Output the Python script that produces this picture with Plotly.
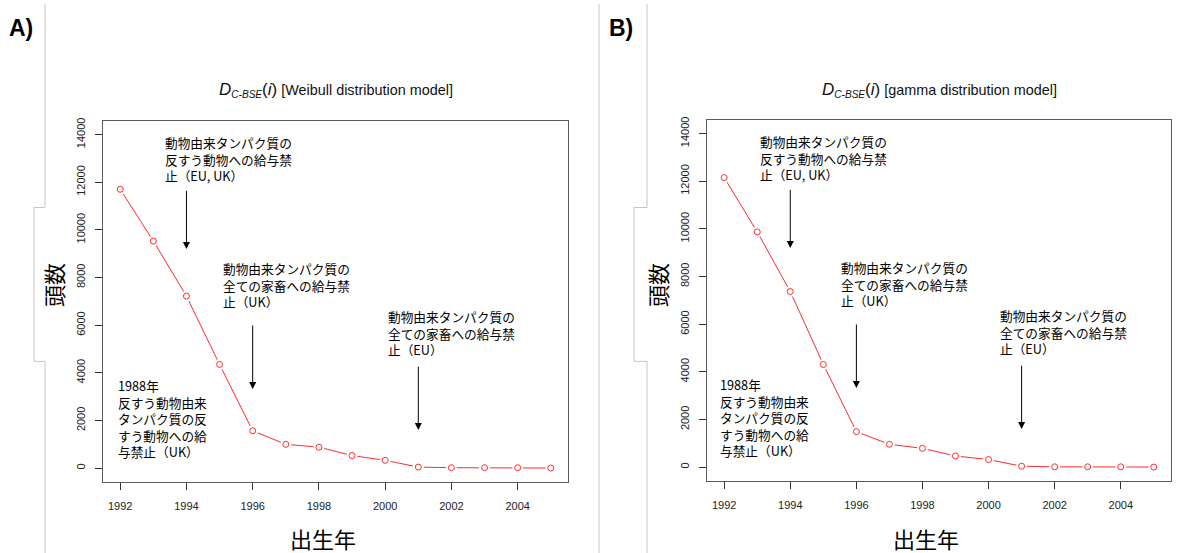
import plotly.graph_objects as go

# Birth cohorts and estimated C-BSE case counts for the two incubation models
years = [1992, 1993, 1994, 1995, 1996, 1997, 1998, 1999, 2000, 2001, 2002, 2003, 2004, 2005]
weibull_cases = [11700, 9530, 7220, 4350, 1570, 1000, 880, 530, 330, 45, 20, 20, 20, 5]
gamma_cases = [12150, 9870, 7370, 4310, 1490, 960, 790, 470, 320, 40, 15, 15, 15, 5]

x_ticks = [1992, 1994, 1996, 1998, 2000, 2002, 2004]
y_ticks = [0, 2000, 4000, 6000, 8000, 10000, 12000, 14000]
y_tick_labels = ["0", "2000", "4000", "6000", "8000", "10000", "12000", "14000"]

panel_letters = ["A)", "B)"]
model_names = ["Weibull distribution model", "gamma distribution model"]
y_title = "頭数"
x_title = "出生年"

# Feed-ban notes: (text, text x, text centre y)
notes_a = [
    ("動物由来タンパク質の<br>反すう動物への給与禁<br>止（EU, UK）", 1993.28, 12970),
    ("動物由来タンパク質の<br>全ての家畜への給与禁<br>止（UK）", 1995.03, 7700),
    ("動物由来タンパク質の<br>全ての家畜への給与禁<br>止（EU）", 2000.03, 5690),
    ("1988年<br>反すう動物由来<br>タンパク質の反<br>すう動物への給<br>与禁止（UK）", 1991.87, 2080),
]
notes_b = [
    ("動物由来タンパク質の<br>反すう動物への給与禁<br>止（EU, UK）", 1993.01, 12970),
    ("動物由来タンパク質の<br>全ての家畜への給与禁<br>止（UK）", 1995.48, 7700),
    ("動物由来タンパク質の<br>全ての家畜への給与禁<br>止（EU）", 2000.30, 5690),
    ("1988年<br>反すう動物由来<br>タンパク質の反<br>すう動物への給<br>与禁止（UK）", 1991.80, 2080),
]
# Arrows: (year, start, end)
arrows = [(1994, 11700, 9200), (1996, 6050, 3320), (2001, 4320, 1600)]

W, H = 1199, 553
JP = "Noto Sans CJK JP"
LAT = "Liberation Sans, Arial, sans-serif"


def px(x):
    return x / W


def py(y):
    return 1 - y / H


fig = go.Figure()

panels = [
    dict(cases=weibull_cases, notes=notes_a, left=103, right=568, top=118, bottom=481,
         xa="x", ya="y", frame_x=45, frame_inner=34, letter_x=7),
    dict(cases=gamma_cases, notes=notes_b, left=707, right=1171, top=117, bottom=480,
         xa="x2", ya="y2", frame_x=647, frame_inner=634, letter_x=607),
]

annotations = []
shapes = []
for i, p in enumerate(panels):
    # line, white halo for the gaps, then open circles (R type="b" look)
    fig.add_trace(go.Scatter(x=years, y=p["cases"], mode="lines",
                             line=dict(color="#ff2a2a", width=1),
                             xaxis=p["xa"], yaxis=p["ya"], showlegend=False, hoverinfo="skip"))
    fig.add_trace(go.Scatter(x=years, y=p["cases"], mode="markers",
                             marker=dict(symbol="circle", size=11, color="white"),
                             xaxis=p["xa"], yaxis=p["ya"], showlegend=False, hoverinfo="skip"))
    fig.add_trace(go.Scatter(x=years, y=p["cases"], mode="markers",
                             marker=dict(symbol="circle-open", size=6, color="#ff2a2a",
                                         line=dict(width=1)),
                             xaxis=p["xa"], yaxis=p["ya"], showlegend=False))

    axis_common = dict(showgrid=False, zeroline=False, showline=True, mirror=True,
                       linecolor="#5a5a5a", linewidth=1, ticks="outside", ticklen=7,
                       tickcolor="#333333", tickwidth=1,
                       tickfont=dict(family=LAT, size=11, color="#222222"))
    xname = "xaxis" if i == 0 else "xaxis2"
    yname = "yaxis" if i == 0 else "yaxis2"
    fig.update_layout(**{
        xname: dict(axis_common, domain=[px(p["left"]), px(p["right"])],
                    range=[1991.48, 2005.52], tickvals=x_ticks,
                    ticktext=[str(v) for v in x_ticks],
                    anchor=p["ya"], ticklabelstandoff=7),
        yname: dict(axis_common, domain=[py(p["bottom"]), py(p["top"])],
                    range=[-560, 14560], tickvals=y_ticks, ticktext=y_tick_labels,
                    tickangle=-90, anchor=p["xa"], ticklabelstandoff=6),
    })

    cx = (p["left"] + p["right"]) / 2
    # title
    big = "<span style='font-size:17px'>"
    annotations.append(dict(
        xref="paper", yref="paper", x=px(cx), y=py(87), xanchor="center", yanchor="middle",
        showarrow=False,
        text=(big + "<i>D</i></span><sub><i>C-BSE</i></sub>" + big + "(<i>i</i>)</span> ["
              + model_names[i] + "]"),
        font=dict(family=LAT, size=14.4, color="#111111")))
    # axis titles
    annotations.append(dict(
        xref="paper", yref="paper", x=px(p["left"] - 50), y=py(283), xanchor="center",
        yanchor="middle", showarrow=False, textangle=-90, text=y_title,
        font=dict(family=JP, size=22, color="black")))
    annotations.append(dict(
        xref="paper", yref="paper", x=px(cx - 13), y=py(538), xanchor="center",
        yanchor="middle", showarrow=False, text=x_title,
        font=dict(family=JP, size=22, color="black")))
    # panel letter
    annotations.append(dict(
        xref="paper", yref="paper", x=px(p["letter_x"]), y=py(24), xanchor="left",
        yanchor="middle", showarrow=False, text="<b>" + panel_letters[i] + "</b>",
        font=dict(family=LAT, size=23, color="black")))
    # notes
    for text, tx, ty in p["notes"]:
        annotations.append(dict(
            xref=p["xa"], yref=p["ya"], x=tx, y=ty, xanchor="left", yanchor="middle",
            align="left", showarrow=False, text=text,
            font=dict(family=JP, size=12.7, color="black")))
    for ax_year, y0, y1 in arrows:
        annotations.append(dict(
            xref=p["xa"], yref=p["ya"], axref=p["xa"], ayref=p["ya"],
            x=ax_year, y=y1, ax=ax_year, ay=y0, text="", showarrow=True,
            arrowhead=2, arrowsize=1.4, arrowwidth=1, arrowcolor="black", standoff=0))

    # light grey page frame with the notch beside the y title
    fx, fi = p["frame_x"], p["frame_inner"]
    path = (f"M {px(fx)} {py(0)} L {px(fx)} {py(205)} L {px(fi)} {py(205)} "
            f"L {px(fi)} {py(360)} L {px(fx)} {py(360)} L {px(fx)} {py(553)}")
    shapes.append(dict(type="path", xref="paper", yref="paper", path=path,
                       line=dict(color="#c4c4c4", width=1)))

# divider between the two panels
shapes.append(dict(type="line", xref="paper", yref="paper", x0=px(599), x1=px(599),
                   y0=0, y1=1, line=dict(color="#c4c4c4", width=1)))

fig.update_layout(
    width=W, height=H, margin=dict(l=0, r=0, t=0, b=0),
    paper_bgcolor="white", plot_bgcolor="white",
    annotations=annotations, shapes=shapes, showlegend=False,
)

fig.write_html("out.html")
